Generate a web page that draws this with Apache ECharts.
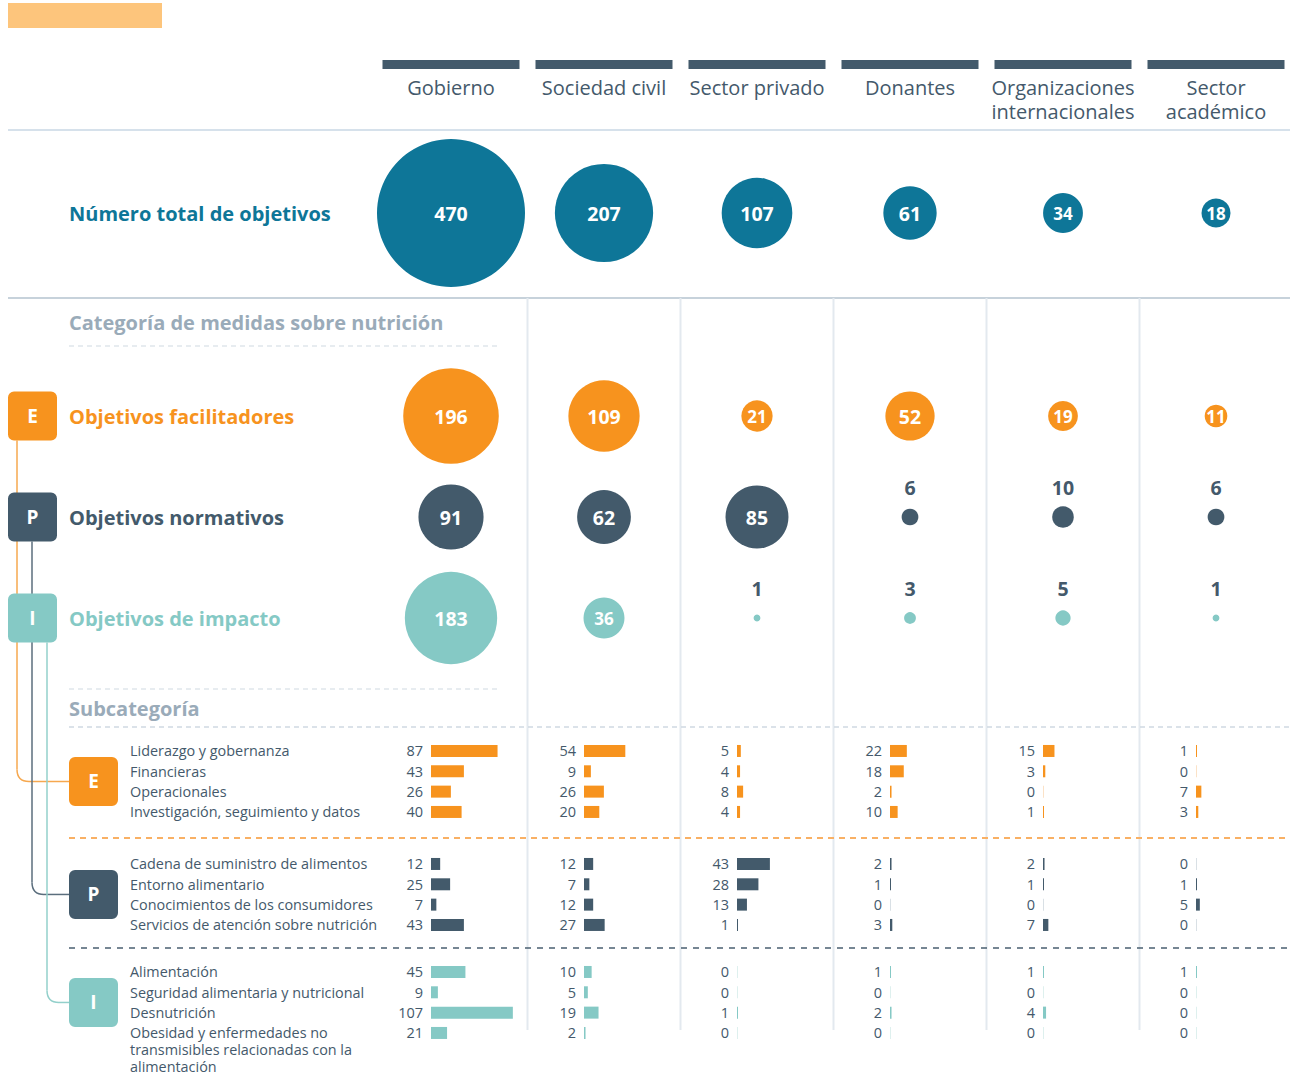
<!DOCTYPE html>
<html>
<head>
<meta charset="utf-8">
<script src="https://cdn.jsdelivr.net/npm/echarts@6/dist/echarts.min.js"></script>
<style>
  html, body { margin: 0; padding: 0; background: #fff; }
  #chart { width: 1290px; height: 1089px; }
</style>
</head>
<body>
<div id="chart"></div>
<script>
// actores (columnas)
const actors = ['Gobierno', 'Sociedad civil', 'Sector privado', 'Donantes', 'Organizaciones\ninternacionales', 'Sector\nacadémico'];

// número de objetivos por actor
const totalGoals = [470, 207, 107, 61, 34, 18];
const categoryNames = ['Objetivos facilitadores', 'Objetivos normativos', 'Objetivos de impacto'];
const enablingGoals = [196, 109, 21, 52, 19, 11];
const policyGoals = [91, 62, 85, 6, 10, 6];
const impactGoals = [183, 36, 1, 3, 5, 1];

// subcategorías
const enablingSubs = ['Liderazgo y gobernanza', 'Financieras', 'Operacionales', 'Investigación, seguimiento y datos'];
const policySubs = ['Cadena de suministro de alimentos', 'Entorno alimentario', 'Conocimientos de los consumidores', 'Servicios de atención sobre nutrición'];
const impactSubs = ['Alimentación', 'Seguridad alimentaria y nutricional', 'Desnutrición', 'Obesidad y enfermedades no transmisibles relacionadas con la alimentación'];

// valores por actor, en el orden de las subcategorías
const enablingCounts = [
  [87, 43, 26, 40],
  [54, 9, 26, 20],
  [5, 4, 8, 4],
  [22, 18, 2, 10],
  [15, 3, 0, 1],
  [1, 0, 7, 3]
];
const policyCounts = [
  [12, 25, 7, 43],
  [12, 7, 12, 27],
  [43, 28, 13, 1],
  [2, 1, 0, 3],
  [2, 1, 0, 7],
  [0, 1, 5, 0]
];
const impactCounts = [
  [45, 9, 107, 21],
  [10, 5, 19, 2],
  [0, 0, 1, 0],
  [1, 0, 2, 0],
  [1, 0, 4, 0],
  [1, 0, 0, 0]
];

const FONT = '"Open Sans", "Noto Sans", sans-serif';
const TEXT = '#44596b';
const TEAL = '#0e7698';
const ORANGE = '#f7931e';
const DARK = '#435a6b';
const AQUA = '#85c9c5';
const letters = ['E', 'P', 'I'];
const catColors = [ORANGE, DARK, AQUA];
const zeroTints = ['#fbe2c7', '#d9e0e5', '#def0ee'];

// layout
const COL0 = 451, COLW = 153;
const PLOT_LEFT = COL0 - COLW / 2;
const PLOT_W = COLW * 6;
const ROW_TOTAL = 213;
const CAT_TOP = 365.5, CAT_ROW = 101;
const groupTops = [740.8, 853.8, 961.8];
const SUB_ROW = 20.33;
const BAR_OFF = 20;

const chart = echarts.init(document.getElementById('chart'), null, { renderer: 'svg' });

const sizeK = 148 / Math.sqrt(470);

function bubbleItems(vals, row) {
  return vals.map((v, i) => ({
    value: [i, row, v],
    label: v > 10
      ? { color: '#fff', fontSize: v < 40 ? 17 : 19.5 }
      : { color: TEXT, offset: [0, -30] }
  }));
}

function wrap(name, n) {
  const words = name.split(' ');
  const lines = [];
  let cur = '';
  words.forEach(w => {
    if (cur && (cur + ' ' + w).length > n) { lines.push(cur); cur = w; }
    else cur = cur ? cur + ' ' + w : w;
  });
  lines.push(cur);
  // la primera línea queda alineada con la barra
  return new Array(lines.length - 1).fill('').concat(lines).join('\n');
}

const grids = [
  { left: PLOT_LEFT, top: ROW_TOTAL - 80, width: PLOT_W, height: 160, outerBoundsMode: 'none' },
  { left: PLOT_LEFT, top: CAT_TOP, width: PLOT_W, height: CAT_ROW * 3, outerBoundsMode: 'none' }
];
const xAxes = [
  {
    gridIndex: 0, type: 'category', position: 'top', data: actors,
    axisLine: { show: false }, axisTick: { show: false },
    axisLabel: { interval: 0, color: TEXT, fontSize: 20, fontFamily: FONT, lineHeight: 24, verticalAlign: 'top', margin: 58 }
  },
  { gridIndex: 1, type: 'category', data: actors, show: false }
];
const yAxes = [
  {
    gridIndex: 0, type: 'category', data: ['Número total de objetivos'],
    axisLine: { show: false }, axisTick: { show: false },
    axisLabel: { color: TEAL, fontSize: 20, fontWeight: 'bold', fontFamily: FONT, align: 'left', margin: PLOT_LEFT - 69 }
  },
  {
    gridIndex: 1, type: 'category', inverse: true, data: categoryNames, z: 5,
    axisLine: { show: false }, axisTick: { show: false },
    axisLabel: {
      interval: 0, align: 'left', margin: PLOT_LEFT - 8,
      formatter: (val, idx) => `{b${idx}|${letters[idx]}}{gap|}{t${idx}|${val}}`,
      rich: Object.assign({ gap: { width: 12 } },
        ...catColors.map((c, i) => ({
          ['b' + i]: { backgroundColor: c, color: '#fff', width: 49, height: 49, lineHeight: 49, align: 'center', verticalAlign: 'middle', borderRadius: 6, fontSize: 19, fontWeight: 'bold', fontFamily: FONT },
          ['t' + i]: { color: c, fontSize: 20, fontWeight: 'bold', fontFamily: FONT, verticalAlign: 'middle' }
        })))
    }
  }
];

const series = [];
const bubbleLabel = {
  show: true, position: 'inside', fontWeight: 'bold', fontFamily: FONT, fontSize: 19.5,
  formatter: p => p.value[2]
};
series.push({
  type: 'scatter', xAxisIndex: 0, yAxisIndex: 0,
  symbolSize: d => sizeK * Math.sqrt(d[2]),
  itemStyle: { color: TEAL, opacity: 1 },
  label: bubbleLabel,
  data: bubbleItems(totalGoals, 0)
});
[enablingGoals, policyGoals, impactGoals].forEach((vals, r) => {
  series.push({
    type: 'scatter', xAxisIndex: 1, yAxisIndex: 1,
    symbolSize: d => sizeK * Math.sqrt(d[2]),
    itemStyle: { color: catColors[r], opacity: 1 },
    label: bubbleLabel,
    data: bubbleItems(vals, r)
  });
});

// barras de subcategorías: una cuadrícula por grupo y actor
const subs = [enablingSubs, policySubs, impactSubs];
const counts = [enablingCounts, policyCounts, impactCounts];
subs.forEach((names, g) => {
  actors.forEach((a, c) => {
    const idx = grids.length;
    grids.push({ left: COL0 + COLW * c - BAR_OFF, top: groupTops[g], width: 107.1, height: SUB_ROW * 4, outerBoundsMode: 'none' });
    xAxes.push({ gridIndex: idx, type: 'value', min: 0, max: 140, show: false });
    yAxes.push({
      gridIndex: idx, type: 'category', inverse: true, data: names,
      axisLine: { show: false }, axisTick: { show: false }, splitLine: { show: false },
      axisLabel: {
        show: c === 0, interval: 0, hideOverlap: false, align: 'left', margin: COL0 - BAR_OFF - 130,
        color: TEXT, fontSize: 14.4, fontFamily: FONT, lineHeight: 17,
        formatter: v => wrap(v, 37)
      }
    });
    series.push({
      type: 'bar', xAxisIndex: idx, yAxisIndex: idx,
      barWidth: 12, barMinHeight: 1,
      itemStyle: { color: catColors[g] },
      label: { show: true, position: 'left', distance: 8, color: TEXT, fontSize: 14.5, fontFamily: FONT },
      data: counts[g][c].map(v => v === 0 ? { value: v, itemStyle: { color: zeroTints[g] } } : v)
    });
  });
});

// decoración
const graphic = [];
const line = (x1, y1, x2, y2, stroke, w, dash) => ({
  type: 'line', z: 0, silent: true,
  shape: { x1, y1, x2, y2 },
  style: { stroke, lineWidth: w, lineDash: dash || null }
});
graphic.push({ type: 'rect', shape: { x: 8, y: 3, width: 154, height: 25 }, style: { fill: '#fdc57c' } });
actors.forEach((a, c) => {
  graphic.push({ type: 'rect', shape: { x: COL0 + COLW * c - 68.5, y: 60, width: 137, height: 9 }, style: { fill: DARK } });
});
graphic.push(line(8, 130, 1290, 130, '#c9d7e4', 1.5));
graphic.push(line(8, 298, 1290, 298, '#b5c3cf', 1.5));
for (let k = 1; k < 6; k++) {
  const x = PLOT_LEFT + COLW * k;
  graphic.push(line(x, 298, x, 1030, '#e3e9ef', 2));
}
graphic.push(line(69, 346, 498, 346, '#cfd9e2', 1.2, [5, 4]));
graphic.push(line(69, 689, 498, 689, '#cfd9e2', 1.2, [5, 4]));
graphic.push(line(69, 727, 1290, 727, '#cfd9e2', 1.5, [5, 4]));
graphic.push(line(69, 838, 1290, 838, '#f9b064', 2, [6, 5]));
graphic.push(line(69, 948, 1290, 948, '#4a5f70', 1.5, [6, 6]));
graphic.push({
  type: 'text', x: 69, y: 322,
  style: { text: 'Categoría de medidas sobre nutrición', fill: '#9aabb9', fontSize: 20, fontWeight: 'bold', fontFamily: FONT, verticalAlign: 'middle' }
});
graphic.push({
  type: 'text', x: 69, y: 708,
  style: { text: 'Subcategoría', fill: '#9aabb9', fontSize: 20, fontWeight: 'bold', fontFamily: FONT, verticalAlign: 'middle' }
});

// conectores y etiquetas de grupo
const connX = [17, 32, 47];
const connColors = ['#f6a84f', '#5b6e7d', '#93d0cb'];
groupTops.forEach((t, g) => {
  const cy = t + SUB_ROW * 2;
  const sy = CAT_TOP + CAT_ROW * (g + 0.5) + 24.5;
  const x = connX[g];
  const st = { stroke: connColors[g], lineWidth: 1.5, fill: null };
  graphic.push(line(x, sy, x, cy - 12, connColors[g], 1.5));
  graphic.push({
    type: 'bezierCurve', z: 0, silent: true,
    shape: { x1: x, y1: cy - 12, cpx1: x, cpy1: cy, x2: x + 12, y2: cy },
    style: st
  });
  graphic.push(line(x + 12, cy, 69, cy, connColors[g], 1.5));
  graphic.push({
    type: 'rect', z: 2, shape: { x: 69, y: cy - 24.5, width: 49, height: 49, r: 6 },
    style: { fill: catColors[g] }
  });
  graphic.push({
    type: 'text', z: 3, x: 93.5, y: cy,
    style: { text: letters[g], fill: '#fff', fontSize: 19, fontWeight: 'bold', fontFamily: FONT, align: 'center', verticalAlign: 'middle' }
  });
});

chart.setOption({
  backgroundColor: '#fff',
  animation: false,
  textStyle: { fontFamily: FONT },
  grid: grids,
  xAxis: xAxes,
  yAxis: yAxes,
  series: series,
  graphic: graphic
});
</script>
</body>
</html>
